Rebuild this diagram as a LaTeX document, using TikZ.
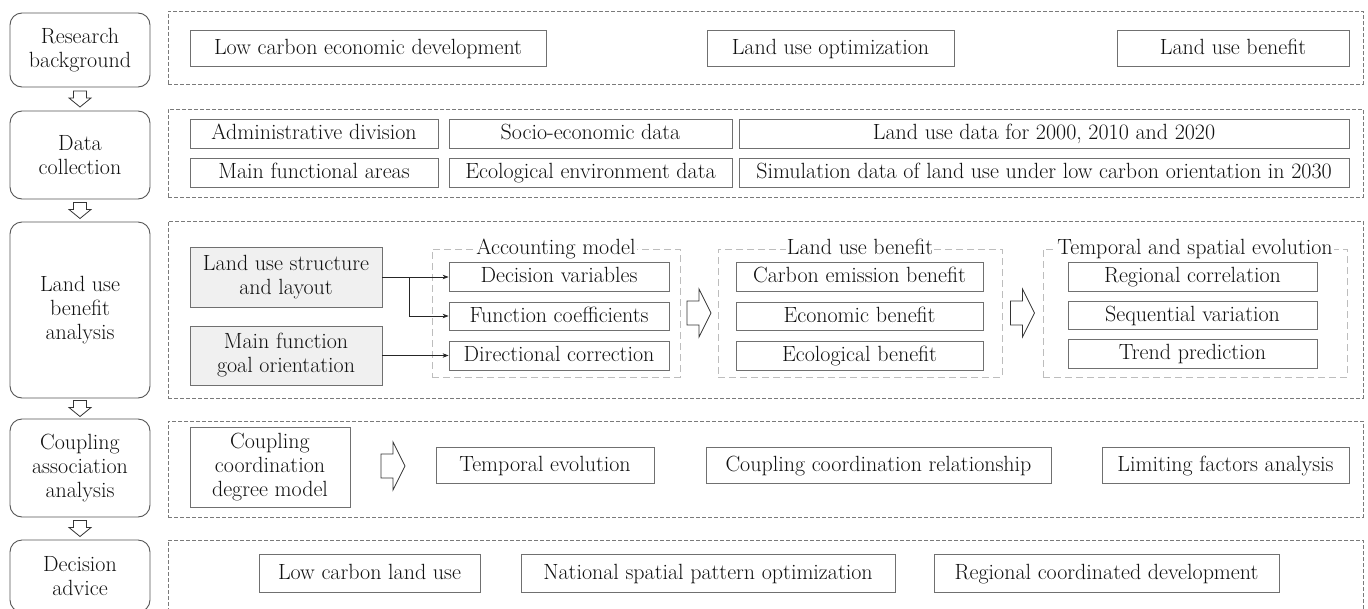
\documentclass[tikz,border=0pt]{standalone}
\usetikzlibrary{arrows.meta,calc}
\definecolor{boxline}{HTML}{707070}
\definecolor{leftline}{HTML}{555555}
\definecolor{outerdash}{HTML}{7A7A7A}
\definecolor{groupdash}{HTML}{BDBDBD}
\definecolor{fillgray}{HTML}{F0F0F0}
\definecolor{txt}{HTML}{101010}
\begin{document}
\begin{tikzpicture}[x=1pt,y=-1pt,
  font=\fontsize{22}{24}\selectfont, text=txt,
  wh/.style 2 args={minimum width=#1pt, minimum height=#2pt},
  leftbox/.style={draw=leftline, line width=0.9pt, rounded corners=12pt, inner sep=0pt, align=center},
  item/.style={draw=boxline, line width=0.8pt, inner sep=0pt, align=center, text height=16pt, text depth=4pt},
  shaded/.style={draw=boxline, line width=0.8pt, inner sep=0pt, align=center, fill=fillgray},
  outer/.style={draw=outerdash, line width=0.8pt, dash pattern=on 4pt off 2pt, inner sep=0pt},
  group/.style={draw=groupdash, line width=1pt, dash pattern=on 7pt off 4pt, inner sep=0pt},
  grouptitle/.style={fill=white, inner sep=1pt, anchor=base},
  conn/.style={draw=black!85, line width=0.7pt, -{Stealth[length=6pt,width=4.5pt]}},
  hollow/.style={draw=black!80, line width=0.8pt, fill=white, line join=miter},
  darrow/.pic={\path[hollow] (-6.5,-8) -- (6.5,-8) -- (6.5,-1) -- (11,-1) -- (0,8) -- (-11,-1) -- (-6.5,-1) -- cycle;},
  rarrow/.pic={\path[hollow] (-12,-12) -- (0,-12) -- (0,-24) -- (12,0) -- (0,24) -- (0,12) -- (-12,12) -- cycle;}
]
\useasboundingbox (0,0) rectangle (1368,608);
\clip (0,0) rectangle (1368,608);

% left stage boxes
\node[leftbox, wh={140}{74}]  (L1) at (80,50)  {Research\\background};
\node[leftbox, wh={140}{88}]  (L2) at (80,155) {Data\\collection};
\node[leftbox, wh={140}{176}] (L3) at (80,310) {Land use\\benefit\\analysis};
\node[leftbox, wh={140}{98}]  (L4) at (80,468) {Coupling\\association\\analysis};
\node[leftbox, wh={140}{72}]  (L5) at (80,576) {Decision\\advice};

\pic at ($(L1.south)!0.5!(L2.north)$) {darrow};
\pic at ($(L2.south)!0.5!(L3.north)$) {darrow};
\pic at ($(L3.south)!0.5!(L4.north)$) {darrow};
\pic at ($(L4.south)!0.5!(L5.north)$) {darrow};

% outer dashed containers
\node[outer, wh={1195}{73}]  (D1) at (765.5,47.5) {};
\node[outer, wh={1195}{88}]  (D2) at (765.5,153) {};
\node[outer, wh={1195}{177}] (D3) at (765.5,309.5) {};
\node[outer, wh={1195}{96}]  (D4) at (765.5,469) {};
\node[outer, wh={1195}{80}]  (D5) at (765.5,580) {};

% row 1
\node[item, wh={356}{36}] (B11) at (368,48)    {Low carbon economic development};
\node[item, wh={247}{36}] (B12) at (830.5,48)  {Land use optimization};
\node[item, wh={232}{36}] (B13) at (1233,48)   {Land use benefit};

% row 2
\node[item, wh={248}{29}] (B21) at (314,133.5)   {Administrative division};
\node[item, wh={283}{29}] (B22) at (590.5,133.5) {Socio-economic data};
\node[item, wh={610}{29}] (B23) at (1044,133.5)  {Land use data for 2000, 2010 and 2020};
\node[item, wh={248}{29}] (B24) at (314,172.5)   {Main functional areas};
\node[item, wh={283}{29}] (B25) at (590.5,172.5) {Ecological environment data};
\node[item, wh={610}{29}] (B26) at (1044,172.5)  {Simulation data of land use under low carbon orientation in 2030};

% row 3
\node[shaded, wh={192}{60}] (G1) at (286,277)   {Land use structure\\and layout};
\node[shaded, wh={192}{59}] (G2) at (286,355.5) {Main function\\goal orientation};

\node[group, wh={248}{128}] (AM) at (556,313) {};
\node[grouptitle] (AMt) at (556,254) {Accounting model};
\node[item, wh={220}{29}] (DV) at (559,276.5) {Decision variables};
\node[item, wh={220}{28}] (FC) at (559,316)   {Function coefficients};
\node[item, wh={220}{29}] (DC) at (559,355.5) {Directional correction};

\node[group, wh={284}{128}] (LB) at (860,313) {};
\node[grouptitle] (LBt) at (860,254) {Land use benefit};
\node[item, wh={247}{29}] (CE) at (859.5,276.5) {Carbon emission benefit};
\node[item, wh={247}{28}] (EB) at (859.5,316)   {Economic benefit};
\node[item, wh={247}{29}] (EC) at (859.5,355.5) {Ecological benefit};

\node[group, wh={304}{128}] (TS) at (1195,313) {};
\node[grouptitle] (TSt) at (1195,254) {Temporal and spatial evolution};
\node[item, wh={249}{29}] (RC) at (1192.5,276.5) {Regional correlation};
\node[item, wh={249}{28}] (SV) at (1192.5,315)   {Sequential variation};
\node[item, wh={249}{29}] (TP) at (1192.5,353.5) {Trend prediction};

\coordinate (br) at (409,277);
\draw[conn] (G1.east) -- (G1.east -| DV.west);
\draw[conn] (br) |- (FC.west);
\draw[conn] (G2.east) -- (G2.east -| DC.west);

\pic at ($(AM.east)!0.5!(LB.west)$) {rarrow};
\pic at ($(LB.east)!0.5!(TS.west)$) {rarrow};

% row 4
\node[shaded, fill=none, wh={160}{80}] (CM) at (270,467) {Coupling\\coordination\\degree model};
\node[item, wh={218}{36}] (TE) at (545,465)    {Temporal evolution};
\node[item, wh={345}{36}] (CR) at (878.5,465)  {Coupling coordination relationship};
\node[item, wh={247}{36}] (LF) at (1225.5,465) {Limiting factors analysis};
\pic at ($(CM.east)!0.5!(TE.west)$) {rarrow};

% row 5
\node[item, wh={221}{38}] (LC) at (369.5,573)  {Low carbon land use};
\node[item, wh={374}{38}] (NS) at (708,573)    {National spatial pattern optimization};
\node[item, wh={345}{38}] (RD) at (1106.5,573) {Regional coordinated development};
\end{tikzpicture}
\end{document}
